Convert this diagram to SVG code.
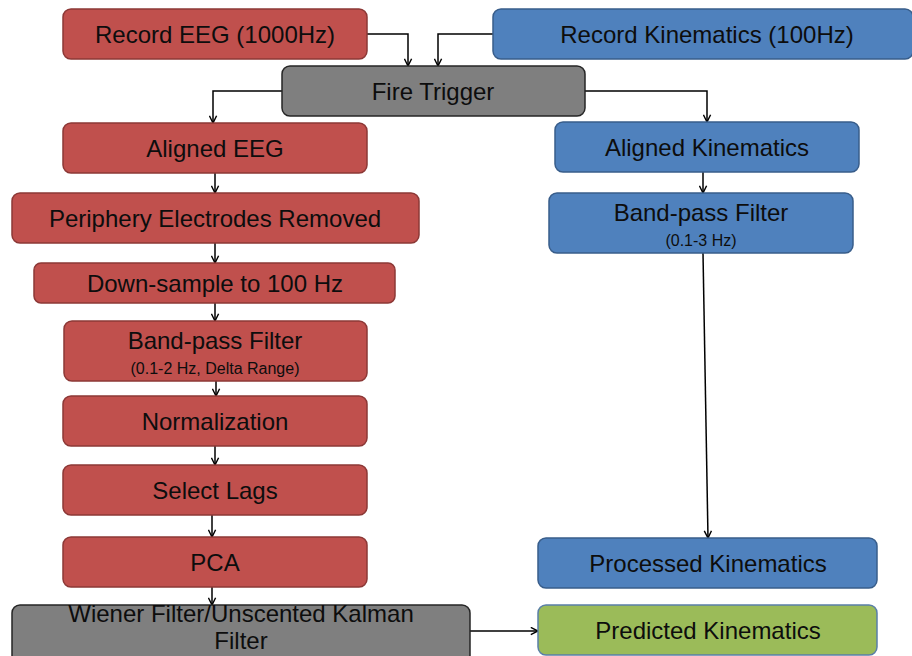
<svg xmlns="http://www.w3.org/2000/svg" width="912" height="656" viewBox="0 0 912 656">
<defs>
<marker id="ah" viewBox="0 0 10 10" refX="9" refY="5" markerWidth="9" markerHeight="9" markerUnits="userSpaceOnUse" orient="auto">
<path d="M1,1 L9,5 L1,9" fill="none" stroke="#000" stroke-width="1.6"/>
</marker>
<style>
.red{fill:#C0504D;stroke:#8C3836;stroke-width:1.5}
.blue{fill:#4F81BD;stroke:#385D8A;stroke-width:1.5}
.gray{fill:#7F7F7F;stroke:#262626;stroke-width:1.5}
.green{fill:#9BBB59;stroke:#5A7FA8;stroke-width:1.5}
text{font-family:"Liberation Sans","Open Sans",sans-serif;font-size:24px;fill:#0d0d0d;text-anchor:middle}
.sm{font-size:16px}
.cn{stroke:#000;stroke-width:1.5;fill:none;marker-end:url(#ah)}
</style>
</defs>
<rect width="912" height="656" fill="#fff"/>
<g id="connectors">
<path class="cn" d="M367,34 H408 V66"/>
<path class="cn" d="M493,34 H438 V66"/>
<path class="cn" d="M282,91 H213 V123"/>
<path class="cn" d="M585,91 H707 V122"/>
<path class="cn" d="M215,173 V193"/>
<path class="cn" d="M215,243 V263"/>
<path class="cn" d="M215,303 V321"/>
<path class="cn" d="M216,381 V396"/>
<path class="cn" d="M215,446 V465"/>
<path class="cn" d="M212,515 V537"/>
<path class="cn" d="M212,587 V605"/>
<path class="cn" d="M703,172 V193"/>
<path class="cn" d="M703,253 L708,538"/>
<path class="cn" d="M470,631 H538"/>
</g>
<g id="record-eeg"><rect class="red" x="63" y="9" width="304" height="50" rx="8"/><text x="215" y="43">Record EEG (1000Hz)</text></g>
<g id="record-kin"><rect class="blue" x="493" y="9" width="420" height="50" rx="8"/><text x="707" y="43">Record Kinematics (100Hz)</text></g>
<g id="fire-trigger"><rect class="gray" x="282" y="66" width="303" height="50" rx="8"/><text x="433" y="100">Fire Trigger</text></g>
<g id="aligned-eeg"><rect class="red" x="63" y="123" width="304" height="50" rx="8"/><text x="215" y="157">Aligned EEG</text></g>
<g id="aligned-kin"><rect class="blue" x="555" y="122" width="304" height="50" rx="8"/><text x="707" y="156">Aligned Kinematics</text></g>
<g id="periphery"><rect class="red" x="12" y="193" width="407" height="50" rx="8"/><text x="215" y="227">Periphery Electrodes Removed</text></g>
<g id="downsample"><rect class="red" x="34" y="263" width="361" height="40" rx="7"/><text x="215" y="292">Down-sample to 100 Hz</text></g>
<g id="bandpass-eeg"><rect class="red" x="64" y="321" width="303" height="60" rx="8"/><text x="215" y="349">Band-pass Filter</text><text class="sm" x="215" y="374">(0.1-2 Hz, Delta Range)</text></g>
<g id="bandpass-kin"><rect class="blue" x="549" y="193" width="304" height="60" rx="8"/><text x="701" y="221">Band-pass Filter</text><text class="sm" x="701" y="246">(0.1-3 Hz)</text></g>
<g id="normalization"><rect class="red" x="63" y="396" width="304" height="50" rx="8"/><text x="215" y="430">Normalization</text></g>
<g id="select-lags"><rect class="red" x="63" y="465" width="304" height="50" rx="8"/><text x="215" y="499">Select Lags</text></g>
<g id="pca"><rect class="red" x="63" y="537" width="304" height="50" rx="8"/><text x="215" y="571">PCA</text></g>
<g id="processed-kin"><rect class="blue" x="538" y="538" width="339" height="50" rx="8"/><text x="708" y="572">Processed Kinematics</text></g>
<g id="wiener"><rect class="gray" x="12" y="605" width="458" height="60" rx="8"/><text x="241" y="622">Wiener Filter/Unscented Kalman</text><text x="241" y="649">Filter</text></g>
<g id="predicted-kin"><rect class="green" x="538" y="605" width="339" height="50" rx="8"/><text x="708" y="639">Predicted Kinematics</text></g>
</svg>
